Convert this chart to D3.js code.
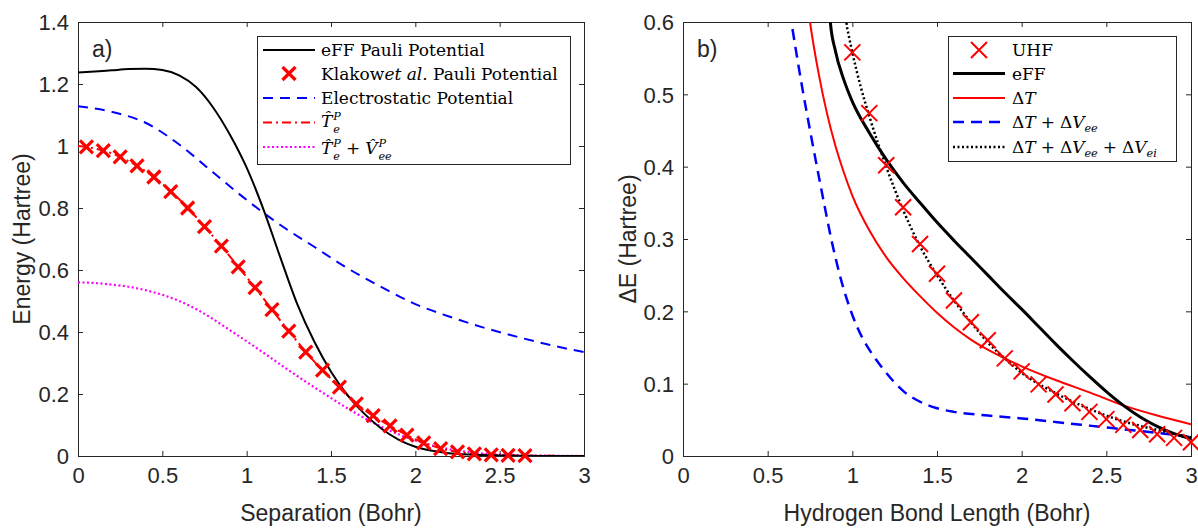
<!DOCTYPE html>
<html><head><meta charset="utf-8">
<script src="https://cdn.jsdelivr.net/npm/d3@7"></script>
<style>
body{margin:0;background:#fff;}
svg{display:block;}
.tick text{font-family:"Liberation Sans",Arial,sans-serif;font-size:22px;fill:#262626;}
.lab{font-family:"Liberation Sans",Arial,sans-serif;font-size:23px;fill:#262626;}
.leg text{font-family:"DejaVu Serif",serif;fill:#000;}
</style></head>
<body>
<svg id="c" width="1198" height="529"></svg>
<script>
// ---------- Panel a data ----------
const aXTicks = [0,0.5,1,1.5,2,2.5,3];
const aYTicks = [0,0.2,0.4,0.6,0.8,1,1.2,1.4];
const aEffX = [0,0.1,0.2,0.3,0.4,0.5,0.6,0.7,0.8,0.9,1.0,1.1,1.2,1.3,1.4,1.5,1.6,1.7,1.8,1.9,2.0,2.1,2.2,2.4,2.6,2.8,3.0];
const aEffY = [1.237,1.24,1.244,1.248,1.249,1.245,1.228,1.19,1.125,1.037,0.93,0.795,0.64,0.49,0.37,0.272,0.195,0.135,0.088,0.053,0.03,0.017,0.009,0.003,0.001,0,0];
const aElecX = [0,0.2,0.4,0.6,0.8,1.0,1.2,1.4,1.6,1.8,2.0,2.2,2.4,2.6,2.8,3.0];
const aElecY = [1.128,1.11,1.075,1.005,0.915,0.826,0.745,0.675,0.605,0.545,0.49,0.45,0.415,0.385,0.358,0.335];
const aTX = [0,0.1,0.2,0.3,0.4,0.5,0.6,0.7,0.8,0.9,1.0,1.1,1.2,1.3,1.4,1.5,1.6,1.7,1.8,1.9,2.0,2.1,2.2,2.3,2.4,2.5,2.6,2.8,3.0];
const aTY = [1.0,0.992,0.976,0.951,0.919,0.878,0.828,0.771,0.709,0.644,0.577,0.508,0.437,0.369,0.305,0.249,0.195,0.148,0.113,0.082,0.054,0.033,0.018,0.01,0.005,0.003,0.0015,0.0005,0];
const aTVX = [0,0.1,0.2,0.3,0.4,0.5,0.6,0.7,0.8,0.9,1.0,1.1,1.2,1.3,1.4,1.5,1.6,1.7,1.8,1.9,2.0,2.1,2.2,2.3,2.4,2.6,2.8,3.0];
const aTVY = [0.56,0.558,0.553,0.546,0.535,0.52,0.50,0.474,0.442,0.406,0.37,0.333,0.295,0.258,0.222,0.187,0.153,0.122,0.094,0.07,0.05,0.034,0.022,0.014,0.008,0.003,0.001,0];
const aKlX = [0.05,0.15,0.25,0.35,0.45,0.55,0.65,0.75,0.85,0.95,1.05,1.15,1.25,1.35,1.45,1.55,1.65,1.75,1.85,1.95,2.05,2.15,2.25,2.35,2.45,2.55,2.65];
const aKlY = [0.997,0.985,0.965,0.936,0.90,0.853,0.80,0.74,0.677,0.61,0.543,0.472,0.403,0.335,0.277,0.222,0.168,0.13,0.097,0.067,0.042,0.024,0.013,0.007,0.004,0.002,0.001];

// ---------- Panel b data ----------
const bXTicks = [0,0.5,1,1.5,2,2.5,3];
const bYTicks = [0,0.1,0.2,0.3,0.4,0.5,0.6];
const bUhfX = [1.0,1.1,1.2,1.3,1.4,1.5,1.6,1.7,1.8,1.9,2.0,2.1,2.2,2.3,2.4,2.5,2.6,2.7,2.8,2.9,3.0];
const bUhfY = [0.558,0.474,0.402,0.344,0.293,0.252,0.215,0.185,0.16,0.135,0.117,0.099,0.085,0.073,0.061,0.051,0.043,0.036,0.03,0.025,0.019];
const bEffX = [0.86,0.87,0.9,0.95,1.0,1.1,1.2,1.3,1.4,1.5,1.6,1.7,1.8,1.9,2.0,2.1,2.2,2.3,2.4,2.5,2.6,2.7,2.8,2.9,3.0];
const bEffY = [0.63,0.6,0.56,0.52,0.49,0.447,0.41,0.378,0.35,0.323,0.298,0.274,0.25,0.226,0.203,0.179,0.155,0.132,0.11,0.089,0.07,0.054,0.041,0.031,0.024];
const bTX = [0.74,0.75,0.8,0.85,0.9,0.95,1.0,1.1,1.2,1.3,1.4,1.5,1.6,1.7,1.8,1.9,2.0,2.2,2.4,2.6,2.8,3.0];
const bTY = [0.617,0.6,0.53,0.474,0.429,0.392,0.36,0.312,0.275,0.246,0.221,0.198,0.178,0.161,0.147,0.135,0.124,0.105,0.088,0.07,0.056,0.044];
const bTVeeX = [0.63,0.64,0.7,0.76,0.82,0.88,0.94,1.0,1.06,1.12,1.18,1.24,1.3,1.4,1.5,1.6,1.8,2.0,2.2,2.4,2.6,2.8,3.0];
const bTVeeY = [0.615,0.6,0.515,0.438,0.365,0.295,0.238,0.195,0.163,0.14,0.121,0.104,0.09,0.075,0.066,0.061,0.056,0.052,0.047,0.042,0.037,0.032,0.026];
const bAllX = [0.955,0.965,0.98,1.0,1.05,1.1,1.2,1.3,1.4,1.5,1.6,1.7,1.8,1.9,2.0,2.2,2.4,2.6,2.8,3.0];
const bAllY = [0.63,0.6,0.58,0.558,0.51,0.47,0.40,0.34,0.29,0.25,0.215,0.185,0.157,0.135,0.115,0.087,0.065,0.048,0.036,0.026];

const svg = d3.select('#c');
const AX = '#262626';

function panel(opt){
  const g = svg.append('g');
  const x = d3.scaleLinear().domain([0,3]).range([opt.l, opt.r]);
  const y = d3.scaleLinear().domain(opt.ydom).range([opt.b, opt.t]);
  const cid = 'clip'+opt.id;
  svg.append('clipPath').attr('id',cid).append('rect')
    .attr('x',opt.l).attr('y',opt.t).attr('width',opt.r-opt.l).attr('height',opt.b-opt.t);
  const xa = g.append('g').attr('transform',`translate(0,${opt.b})`)
    .call(d3.axisBottom(x).tickValues(opt.xt).tickSize(-5).tickPadding(12).tickFormat(d3.format('~g')));
  const xt = g.append('g').attr('transform',`translate(0,${opt.t})`)
    .call(d3.axisTop(x).tickValues(opt.xt).tickSize(-5).tickFormat(''));
  const ya = g.append('g').attr('transform',`translate(${opt.l},0)`)
    .call(d3.axisLeft(y).tickValues(opt.yt).tickSize(-5).tickPadding(9).tickFormat(d3.format('~g')));
  const yr = g.append('g').attr('transform',`translate(${opt.r},0)`)
    .call(d3.axisRight(y).tickValues(opt.yt).tickSize(-5).tickFormat(''));
  [xa,xt,ya,yr].forEach(a=>{
    a.select('.domain').attr('stroke',AX).attr('stroke-width',1);
    a.selectAll('.tick line').attr('stroke',AX);
  });
  ya.selectAll('.tick text').attr('dy','0.36em');
  xa.selectAll('.tick text').attr('dy','0.70em');
  return {g,x,y,cid};
}

function drawLine(P, xs, ys, color, w, dash){
  const line = d3.line().x(d=>P.x(d[0])).y(d=>P.y(d[1])).curve(d3.curveMonotoneX);
  P.g.append('path').datum(d3.zip(xs,ys)).attr('d',line)
    .attr('fill','none').attr('stroke',color).attr('stroke-width',w)
    .attr('stroke-dasharray',dash||null).attr('clip-path',`url(#${P.cid})`)
    .attr('stroke-linejoin','round');
}
function drawX(g, cx, cy, s, w){
  g.append('path').attr('d',`M${cx-s},${cy-s}L${cx+s},${cy+s}M${cx-s},${cy+s}L${cx+s},${cy-s}`)
    .attr('stroke','#ff0000').attr('stroke-width',w).attr('fill','none');
}

function mtext(g, x, y, toks, fs){
  let cx = x, hold = null;
  toks.forEach(tk=>{
    const sz = tk.s ? fs*0.66 : fs;
    const t = g.append('text').attr('x',cx).attr('y',y + (tk.dy||0))
      .attr('font-size',sz).attr('font-style',tk.i?'italic':'normal').text(tk.t);
    const w = t.node().getComputedTextLength();
    if(tk.hold){ hold = w; }
    else { cx += Math.max(w, hold||0) + (tk.gap||0); hold = null; }
  });
}

// ---------- Panel a ----------
const A = panel({id:'a', l:78, r:584, t:22, b:456, ydom:[0,1.4], xt:aXTicks, yt:aYTicks});
drawLine(A, aElecX, aElecY, '#0000ff', 2, '10,7');
drawLine(A, aTVX, aTVY, '#ff00ff', 2.2, '2,2.5');
drawLine(A, aTX, aTY, '#ff0000', 2, '9,4,2,4');
drawLine(A, aEffX, aEffY, '#000', 2);
aKlX.forEach((xv,i)=>drawX(A.g, A.x(xv), A.y(aKlY[i]), 6.5, 3.2));
svg.append('text').attr('class','lab').attr('x',92).attr('y',57).text('a)');
svg.append('text').attr('class','lab').attr('x',(78+584)/2).attr('y',521).attr('text-anchor','middle').text('Separation (Bohr)');
svg.append('text').attr('class','lab').attr('transform','translate(30,239) rotate(-90)').attr('text-anchor','middle').text('Energy (Hartree)');

// legend a
const LA = svg.append('g').attr('class','leg');
LA.append('rect').attr('x',257.5).attr('y',36.5).attr('width',313).attr('height',128).attr('fill','#fff').attr('stroke',AX).attr('stroke-width',1);
const la = [50,73.5,98,122.5,147];
LA.append('line').attr('x1',263).attr('x2',315).attr('y1',la[0]).attr('y2',la[0]).attr('stroke','#000').attr('stroke-width',2);
drawX(LA, 289, la[1], 6.5, 3.2);
LA.append('line').attr('x1',263).attr('x2',315).attr('y1',la[2]).attr('y2',la[2]).attr('stroke','#0000ff').attr('stroke-width',2).attr('stroke-dasharray','10,7');
LA.append('line').attr('x1',263).attr('x2',315).attr('y1',la[3]).attr('y2',la[3]).attr('stroke','#ff0000').attr('stroke-width',2).attr('stroke-dasharray','9,4,2,4');
LA.append('line').attr('x1',263).attr('x2',315).attr('y1',la[4]).attr('y2',la[4]).attr('stroke','#ff00ff').attr('stroke-width',2.2).attr('stroke-dasharray','2,2.5');
const fsA = 17;
mtext(LA, 321, la[0]+6, [{t:'eFF Pauli Potential'}], fsA);
mtext(LA, 321, la[1]+6, [{t:'Klakow'},{t:'et al.',i:true},{t:'\u00a0Pauli Potential'}], fsA);
mtext(LA, 321, la[2]+6, [{t:'Electrostatic Potential'}], fsA);
mtext(LA, 321, la[3]+4, [{t:'T\u0302',i:true,gap:1},{t:'P',i:true,s:true,dy:-7,hold:true},{t:'e',i:true,s:true,dy:6}], fsA);
mtext(LA, 321, la[4]+7, [{t:'T\u0302',i:true,gap:1},{t:'P',i:true,s:true,dy:-7,hold:true},{t:'e',i:true,s:true,dy:6,gap:5},{t:'+',gap:5},{t:'V\u0302',i:true,gap:1},{t:'P',i:true,s:true,dy:-7,hold:true},{t:'ee',i:true,s:true,dy:6}], fsA);

// ---------- Panel b ----------
const B = panel({id:'b', l:683, r:1191, t:22, b:456, ydom:[0,0.6], xt:bXTicks, yt:bYTicks});
drawLine(B, bTVeeX, bTVeeY, '#0000ff', 2.5, '11,7');
drawLine(B, bTX, bTY, '#ff0000', 2);
drawLine(B, bEffX, bEffY, '#000', 3);
drawLine(B, bAllX, bAllY, '#000', 2.5, '2,2.5');
bUhfX.forEach((xv,i)=>drawX(B.g, B.x(xv), B.y(bUhfY[i]), 8, 2));
svg.append('text').attr('class','lab').attr('x',697).attr('y',57).text('b)');
svg.append('text').attr('class','lab').attr('x',(683+1191)/2).attr('y',521).attr('text-anchor','middle').text('Hydrogen Bond Length (Bohr)');
svg.append('text').attr('class','lab').attr('transform','translate(636,239) rotate(-90)').attr('text-anchor','middle').text('\u0394E (Hartree)');

// legend b
const LB = svg.append('g').attr('class','leg');
LB.append('rect').attr('x',948.5).attr('y',36.5).attr('width',228).attr('height',125).attr('fill','#fff').attr('stroke',AX).attr('stroke-width',1);
const lb = [50,73.5,98,122,147];
drawX(LB, 979, lb[0], 8, 2);
LB.append('line').attr('x1',953).attr('x2',1005).attr('y1',lb[1]).attr('y2',lb[1]).attr('stroke','#000').attr('stroke-width',3);
LB.append('line').attr('x1',953).attr('x2',1005).attr('y1',lb[2]).attr('y2',lb[2]).attr('stroke','#ff0000').attr('stroke-width',2);
LB.append('line').attr('x1',953).attr('x2',1005).attr('y1',lb[3]).attr('y2',lb[3]).attr('stroke','#0000ff').attr('stroke-width',2.5).attr('stroke-dasharray','11,7');
LB.append('line').attr('x1',953).attr('x2',1005).attr('y1',lb[4]).attr('y2',lb[4]).attr('stroke','#000').attr('stroke-width',2.5).attr('stroke-dasharray','2,2.5');
mtext(LB, 1012, lb[0]+6, [{t:'UHF'}], fsA);
mtext(LB, 1012, lb[1]+6, [{t:'eFF'}], fsA);
mtext(LB, 1012, lb[2]+6, [{t:'\u0394'},{t:'T',i:true}], fsA);
mtext(LB, 1012, lb[3]+6, [{t:'\u0394'},{t:'T',i:true,gap:5},{t:'+',gap:5},{t:'\u0394'},{t:'V',i:true},{t:'ee',i:true,s:true,dy:4}], fsA);
mtext(LB, 1012, lb[4]+6, [{t:'\u0394'},{t:'T',i:true,gap:5},{t:'+',gap:5},{t:'\u0394'},{t:'V',i:true},{t:'ee',i:true,s:true,dy:4,gap:5},{t:'+',gap:5},{t:'\u0394'},{t:'V',i:true},{t:'ei',i:true,s:true,dy:4}], fsA);
</script>
</body></html>
